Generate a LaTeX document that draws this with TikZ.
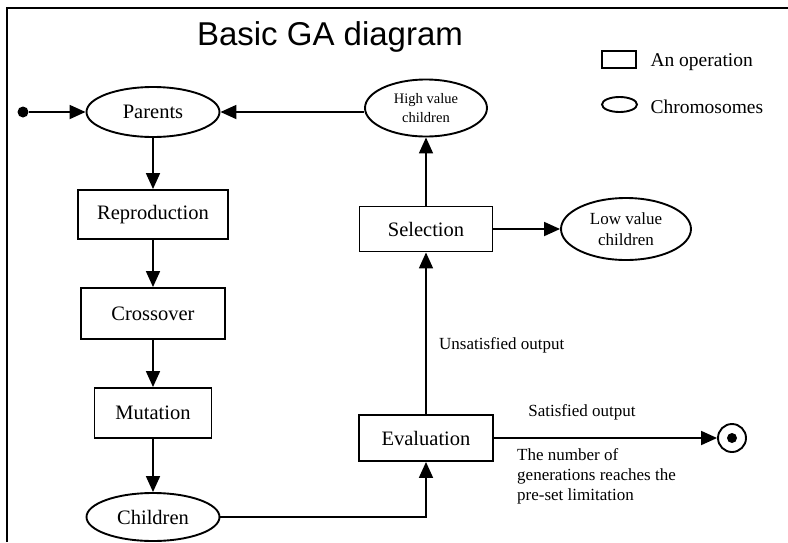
\documentclass[tikz,border=0pt]{standalone}
\usepackage{fontspec}
\setmainfont{Liberation Serif}
\newfontfamily\titlefont{Liberation Sans}
\usetikzlibrary{shapes.geometric,arrows.meta}
\begin{document}
\begin{tikzpicture}[x=1pt,y=-1pt,
  every node/.style={font=\fontsize{20.5}{23}\selectfont},
  op/.style={draw,line width=1.9pt,inner sep=0pt},
  chrom/.style={draw,ellipse,line width=1.9pt,inner sep=0pt,align=center},
  key/.style={anchor=west,font=\fontsize{19.5}{22}\selectfont},
  lbl/.style={font=\fontsize{17}{20}\selectfont,align=left,inner sep=0pt},
  flow/.style={line width=1.8pt,-{Triangle[length=16pt,width=14pt]}}]
  \useasboundingbox (0,0) rectangle (788,542);
  % Frame
  \draw[line width=2.8pt] (7,542) -- (7,8) -- (788,8);
  % Title and legend
  \node[font=\titlefont\fontsize{33}{36}\selectfont] (title) at (330,37) {Basic GA diagram};
  \node[op,minimum width=34,minimum height=17] (keyop) at (619,59.5) {};
  \node[key] (keyoptext) at (647,62) {An operation};
  \node[chrom,minimum width=35,minimum height=15] (keychrom) at (619.5,104.5) {};
  \node[key] (keychromtext) at (647,106.5) {Chromosomes};
  % Left column
  \node[circle,fill,inner sep=0pt,minimum size=11] (start) at (23,112) {};
  \node[chrom,minimum width=133,minimum height=50] (parents) at (153,112) {Parents};
  \node[op,minimum width=150,minimum height=49] (repro) at (153,214.5) {Reproduction};
  \node[op,minimum width=144,minimum height=51] (cross) at (153,313.5) {Crossover};
  \node[op,minimum width=117,minimum height=50] (mut) at (153,413) {Mutation};
  \node[chrom,minimum width=133,minimum height=48] (children) at (153,517) {Children};
  % Right column
  \node[op,minimum width=134,minimum height=46] (eval) at (426,438) {Evaluation};
  \node[op,minimum width=133,minimum height=45] (sel) at (426,229) {Selection};
  \node[chrom,minimum width=122,minimum height=57,font=\fontsize{14.5}{19}\selectfont] (high) at (426,108) {High value\\children};
  \node[chrom,minimum width=130,minimum height=62,font=\fontsize{17}{21.5}\selectfont] (low) at (626,229) {\raisebox{-3pt}{Low value}\\\raisebox{-3pt}{children}};
  \node[circle,draw,line width=1.9pt,minimum size=28,inner sep=0pt] (stop) at (732,438) {};
  \node[circle,fill,inner sep=0pt,minimum size=10] (stopdot) at (stop) {};
  % Labels
  \node[lbl,anchor=west] (unsat) at (439,345) {Unsatisfied output};
  \node[lbl] (sat) at (582,412) {Satisfied output};
  \node[lbl,anchor=north west] (limit) at (517,448) {The number of\\generations reaches the\\pre-set limitation};
  % Edges
  \foreach \a/\b in {
    start/parents,
    parents/repro,repro/cross,cross/mut,mut/children,
    eval/sel,sel/high,sel/low,eval/stop}
    \draw[flow] (\a)--(\b);
  \draw[flow] (high.west |- parents) -- (parents);
  \draw[flow] (children) -| (eval);
\end{tikzpicture}
\end{document}
